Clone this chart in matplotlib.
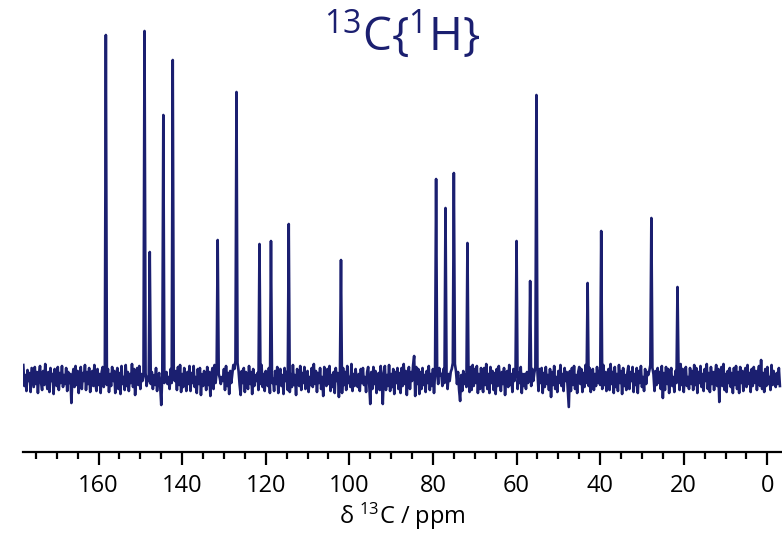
import numpy as np
import matplotlib
matplotlib.use("Agg")
import matplotlib.pyplot as plt

plt.rcParams['font.family'] = ['Open Sans', 'DejaVu Sans']

# chemical shift grid, 0.25 ppm steps (178 -> -3 ppm)
ppm = np.arange(178.0, -3.001, -0.25)

# baseline (noise + broad peak feet), 40 values per 10 ppm
baseline = [
    14, -7, 4, -12, 9, -2, 6, -13, 11, 1, -8, 12, -5, 7, -14, 5, 13, -4, -11, 8,
    -6, 15, 0, -10, 7, -13, 11, -2, 5, -15, 10, 2, -7, 12, -11, 6, -4, 13, -8, 4,
    # 168
    -5, 11, -12, 7, -4, 5, -24, 2, 10, -8, 13, -6, 8, -14, 4, 12, -10, 6, -2, 14,
    -11, 7, -5, 11, -13, 2, 8, -7, 14, -4, -12, 10, -6, 5, -14, 7, 12, -8, 4, -1,
    # 158
    -6, 10, -13, 5, -7, 12, -2, 8, -14, 4, 11, -10, 6, -15, 13, -5, 2, -11, 14, -7,
    7, -12, 5, -4, 15, -8, 10, -16, 1, 11, -6, 13, -10, 5, -2, 4, -4, 6, -7, 2,
    # 148
    -2, 5, -5, 7, -10, 4, -6, 11, -12, 2, 6, -7, -26, 4, 5, -4, 1, 7, -5, 2,
    -10, 10, -4, 6, 0, -2, 8, -11, 12, -6, 14, -13, 5, -8, 11, 2, -12, 7, -5, 13,
    # 138
    -12, 6, -4, 13, -8, 2, -14, 10, -5, 11, -16, 5, -7, 8, 1, -11, 12, -6, 7, -17,
    4, 11, -10, 14, -4, 7, -13, 5, 1, -5, 2, -2, 10, -11, 13, -7, 6, -15, 8, -4,
    # 128
    5, 14, 10, 18, 0, 16, 8, -6, -16, 8, -4, 11, -13, 7, 2, -10, 13, -5, 7, -15,
    10, -7, 4, -2, 6, -11, 12, -5, 14, -8, 5, -12, 8, 2, -7, 11, -14, 6, -4, 0,
    # 118
    -12, 8, -5, 12, -14, 6, 10, -7, 4, -15, 11, -2, 7, -11, 0, -13, 5, -8, 14, -6,
    4, -16, 10, 1, -7, 13, -11, 6, -4, 12, -10, 5, 8, -13, 2, -6, 11, -8, 15, -5,
    # 108
    8, -13, 6, -4, 11, -10, 2, -17, 12, 5, -7, 10, -5, 13, -12, 4, -8, 7, -14, 11,
    -2, 6, -18, 8, 0, -14, 11, -6, 7, -11, 13, -4, 2, -8, 15, -12, 5, -7, 10, -1,
    # 98
    -8, 5, -12, 10, -4, 11, -6, 2, -13, 7, 12, -5, -25, 7, -10, 12, -5, 8, -14, 4,
    6, -11, 13, -2, -25, 6, 13, -11, 4, -7, 14, -12, 5, -8, 10, -15, 7, -4, 11, -10,
    # 88
    6, -14, 11, -7, 15, -5, 8, -16, 4, 12, -10, 7, -2, 14, 23, -17, 12, -5, 10, -15,
    7, -10, 11, -6, 4, -13, 8, -4, 13, -11, 5, -7, 10, -14, 6, 0, 7, -5, 11, 4,
    # 78
    5, -7, 10, -4, 0, 6, -10, 5, -2, 7, 10, 16, 0, 15, 8, -5, 7, -11, -22, 4,
    -12, 8, -5, 4, -8, 0, 6, -13, 12, -11, 14, -7, 10, -4, 13, -14, 5, -10, 11, -6,
    # 68
    -13, 11, -6, 15, -10, 5, -14, 12, -4, 8, -11, 6, -15, 10, -7, 13, 2, -12, 7, -5,
    11, -16, 4, 8, -8, 14, -6, 5, -13, 10, -2, 7, 0, -10, 6, -4, 12, -14, 5, -7,
    # 58
    5, -10, 7, -4, 2, 0, -7, 10, -2, 6, 12, 0, 7, -12, 10, -4, 11, -14, 6, -8,
    12, -5, 4, -11, 10, -18, 7, -6, 13, -10, 2, -13, 8, -4, 14, -7, 5, -12, 11, -2,
    # 48
    7, -11, -28, 8, -12, 11, -6, 13, -10, 4, -14, 7, 12, -5, 10, -13, 6, -8, 14, -4,
    0, -7, 11, -13, 6, 10, -11, 5, -7, 12, -4, 8, -6, 0, -10, 14, -6, 7, -12, 5,
    # 38
    10, -11, 15, -5, 7, -14, 12, -8, 5, -12, 14, -4, 8, -15, 11, -7, 4, -11, 6, 13,
    -10, 7, -2, 12, -13, 5, -6, 11, -14, 8, -4, 13, -8, 2, -12, 10, -5, 7, 4, 8,
    # 28
    14, 0, 11, 5, -12, 8, -6, 11, -4, 7, -10, 13, -19, 6, -11, 12, -5, 10, -14, 4,
    11, -7, 2, -13, 8, -4, 0, 7, -11, 15, -6, 10, -13, 5, 12, -7, 2, -10, 11, -5,
    # 18
    8, -11, 14, -6, 11, -14, 7, -4, 13, -8, 5, -12, 10, -2, 15, -10, 6, -13, 12, -5,
    7, -11, 4, 14, -7, 10, -23, 6, 12, -7, 15, -11, 5, -13, 8, -4, 11, -8, 6, -14,
    # 8
    11, -6, 13, -10, 7, -14, 12, -4, 8, -12, 5, 11, -8, 14, -5, 6, -13, 10, -7, 12,
    -4, 8, -11, 5, 13, -7, 19, -10, 6, -13, 10, -7, 12, -5, 2, -11, 14, -6, 8, -4,
    # -2
    -8, 6, -5, 11, -7,
]

# peak positions (ppm) and heights above baseline
peak_ppm = [158.2, 149.1, 147.8, 144.4, 142.3, 131.4, 127.0, 121.5, 118.7,
            114.4, 101.9, 79.2, 77.0, 74.9, 71.8, 60.0, 56.8, 55.3, 43.0,
            39.8, 27.8, 21.4]
peak_height = [344, 348, 127, 264, 319, 139, 287, 135, 138,
               155, 119, 200, 171, 206, 136, 138, 98, 284, 96,
               148, 161, 92]

assert len(baseline) == len(ppm), (len(baseline), len(ppm))
intensity = np.array(baseline, dtype=float)
for p, h in zip(peak_ppm, peak_height):
    intensity[np.argmin(np.abs(ppm - p))] = h

navy = '#1b1f70'

fig = plt.figure(figsize=(7.82, 5.34), dpi=100)
ax = fig.add_axes([23.3 / 782, (534 - 452) / 534, 1 - 23.3 / 782, 452 / 534])
ax.plot(ppm, intensity, color=navy, linewidth=1.9)

ax.set_xlim(178, -3.5)
ax.set_ylim(-73, 379)

for s in ['left', 'top', 'right']:
    ax.spines[s].set_visible(False)
ax.spines['bottom'].set_linewidth(1.6)
ax.set_yticks([])
ax.set_xticks(np.arange(0, 161, 20))
ax.set_xticks(np.arange(0, 176, 5), minor=True)
ax.tick_params(axis='x', which='major', length=9, width=1.6, labelsize=17, pad=7)
ax.tick_params(axis='x', which='minor', length=5, width=1.6)
ax.set_xlabel(r'δ $\mathregular{^{13}}$C / ppm', fontsize=17, labelpad=2)

fig.text(402 / 782, (534 - 50) / 534, r'$\mathregular{^{13}}$C{$\mathregular{^{1}}$H}',
         ha='center', va='baseline', fontsize=33, color=navy)

fig.savefig('out.png', dpi=100)
